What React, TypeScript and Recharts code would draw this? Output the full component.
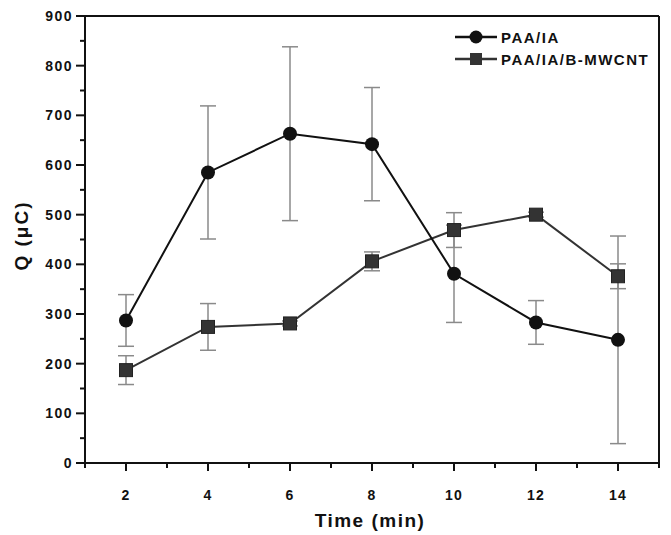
import React from 'react';
import { LineChart, Line, XAxis, YAxis, ErrorBar, Legend, ReferenceLine } from 'recharts';

const times = [2, 4, 6, 8, 10, 12, 14];
const paaIA = [287, 585, 663, 642, 381, 283, 248];
const paaIAErr = [52, 134, 175, 114, 98, 44, 209];
const paaIAMwcnt = [187, 274, 281, 406, 469, 500, 376];
const paaIAMwcntErr = [29, 47, 5, 19, 35, 5, 25];
const xTicks = [1, 2, 3, 4, 5, 6, 7, 8, 9, 10, 11, 12, 13, 14, 15];
const xLabelled = [2, 4, 6, 8, 10, 12, 14];
const yTicks = [0, 50, 100, 150, 200, 250, 300, 350, 400, 450, 500, 550, 600, 650, 700, 750, 800, 850, 900];
const yLabelled = [0, 100, 200, 300, 400, 500, 600, 700, 800, 900];
const seriesNames = ['PAA/IA', 'PAA/IA/B-MWCNT'];

const data = times.map((t, i) => ({
  t,
  paa: paaIA[i],
  paaErr: paaIAErr[i],
  mw: paaIAMwcnt[i],
  mwErr: paaIAMwcntErr[i],
}));

const FONT = '"Liberation Sans", Arial, sans-serif';
const INK = '#111';
const GRAY = '#333';

const XTick = (props: any) => {
  const { x, y, payload } = props;
  const major = xLabelled.includes(payload.value);
  return (
    <g>
      <line x1={x} x2={x} y1={y} y2={y + (major ? 8 : 5)} stroke={INK} strokeWidth={2} />
      {major && (
        <text x={x} y={y + 37} textAnchor="middle" fontFamily={FONT} fontWeight="bold" fontSize={14} letterSpacing={1.2} fill={INK}>
          {payload.value}
        </text>
      )}
    </g>
  );
};

const YTick = (props: any) => {
  const { x, y, payload } = props;
  const major = yLabelled.includes(payload.value);
  return (
    <g>
      <line x1={x} x2={x - (major ? 9 : 5)} y1={y} y2={y} stroke={INK} strokeWidth={2} />
      {major && (
        <text x={x - 12} y={y + 5} textAnchor="end" fontFamily={FONT} fontWeight="bold" fontSize={14} letterSpacing={1.5} fill={INK}>
          {payload.value}
        </text>
      )}
    </g>
  );
};

const CircleDot = (p: any) => (
  <circle key={`c-${p.index}`} cx={p.cx} cy={p.cy} r={7} fill={INK} />
);
const SquareDot = (p: any) => (
  <rect key={`s-${p.index}`} x={p.cx - 6.5} y={p.cy - 6.5} width={13} height={13} fill={GRAY} stroke="#222" strokeWidth={1} />
);

const LegendContent = () => (
  <div style={{ fontFamily: FONT, fontWeight: 'bold', fontSize: 15, letterSpacing: 1.5, color: INK }}>
    {seriesNames.map((name, i) => (
      <div key={name} style={{ display: 'flex', alignItems: 'center', height: 22 }}>
        <svg width={44} height={16} style={{ marginRight: 2 }}>
          <line x1={0} x2={42} y1={8} y2={8} stroke={i === 0 ? INK : GRAY} strokeWidth={2.5} />
          {i === 0 ? <circle cx={21} cy={8} r={6.5} fill={INK} /> : <rect x={15} y={2} width={12} height={12} fill={GRAY} />}
        </svg>
        <span>{name}</span>
      </div>
    ))}
  </div>
);

const XLabel = (props: any) => {
  const vb = props.viewBox || {};
  return (
    <text x={vb.x + vb.width / 2 - 2} y={vb.y + 64} textAnchor="middle" fontFamily={FONT} fontWeight="bold" fontSize={19} letterSpacing={1.5} fill={INK}>
      Time (min)
    </text>
  );
};

const YLabel = (props: any) => {
  const vb = props.viewBox || {};
  const cy = vb.y + vb.height / 2 - 4;
  return (
    <text x={28} y={cy} transform={`rotate(-90, 28, ${cy})`} textAnchor="middle" fontFamily={FONT} fontWeight="bold" fontSize={19} letterSpacing={2} fill={INK}>
      Q (μC)
    </text>
  );
};

export default function App() {
  return (
    <div style={{ position: 'absolute', left: 0, top: 0, width: 671, height: 535, background: '#fff' }}>
      <LineChart width={671} height={535} data={data} margin={{ top: 16, right: 12, bottom: 32, left: 25 }}>
        <XAxis
          dataKey="t"
          type="number"
          domain={[1, 15]}
          ticks={xTicks}
          interval={0}
          tickSize={0}
          tickMargin={0}
          tickLine={false}
          tick={<XTick />}
          axisLine={{ stroke: INK, strokeWidth: 2 }}
          height={40}
          label={<XLabel />}
        />
        <YAxis
          type="number"
          domain={[0, 900]}
          ticks={yTicks}
          interval={0}
          tickSize={0}
          tickMargin={0}
          tickLine={false}
          tick={<YTick />}
          axisLine={{ stroke: INK, strokeWidth: 2 }}
          width={60}
          label={<YLabel />}
        />
        <ReferenceLine y={900} stroke={INK} strokeWidth={2} />
        <ReferenceLine x={15} stroke={INK} strokeWidth={2} />
        <Line
          dataKey="mw"
          name={seriesNames[1]}
          stroke={GRAY}
          strokeWidth={2}
          dot={SquareDot}
          activeDot={false}
          isAnimationActive={false}
        >
          <ErrorBar dataKey="mwErr" direction="y" width={8} stroke="#8a8a8a" strokeWidth={1.5} isAnimationActive={false} />
        </Line>
        <Line
          dataKey="paa"
          name={seriesNames[0]}
          stroke={INK}
          strokeWidth={2}
          dot={CircleDot}
          activeDot={false}
          isAnimationActive={false}
        >
          <ErrorBar dataKey="paaErr" direction="y" width={8} stroke="#8a8a8a" strokeWidth={1.5} isAnimationActive={false} />
        </Line>
        <Legend
          layout="vertical"
          align="center"
          verticalAlign="middle"
          content={<LegendContent />}
          wrapperStyle={{ position: 'absolute', left: 455, top: 26, width: 210, height: 46 }}
        />
      </LineChart>
    </div>
  );
}
